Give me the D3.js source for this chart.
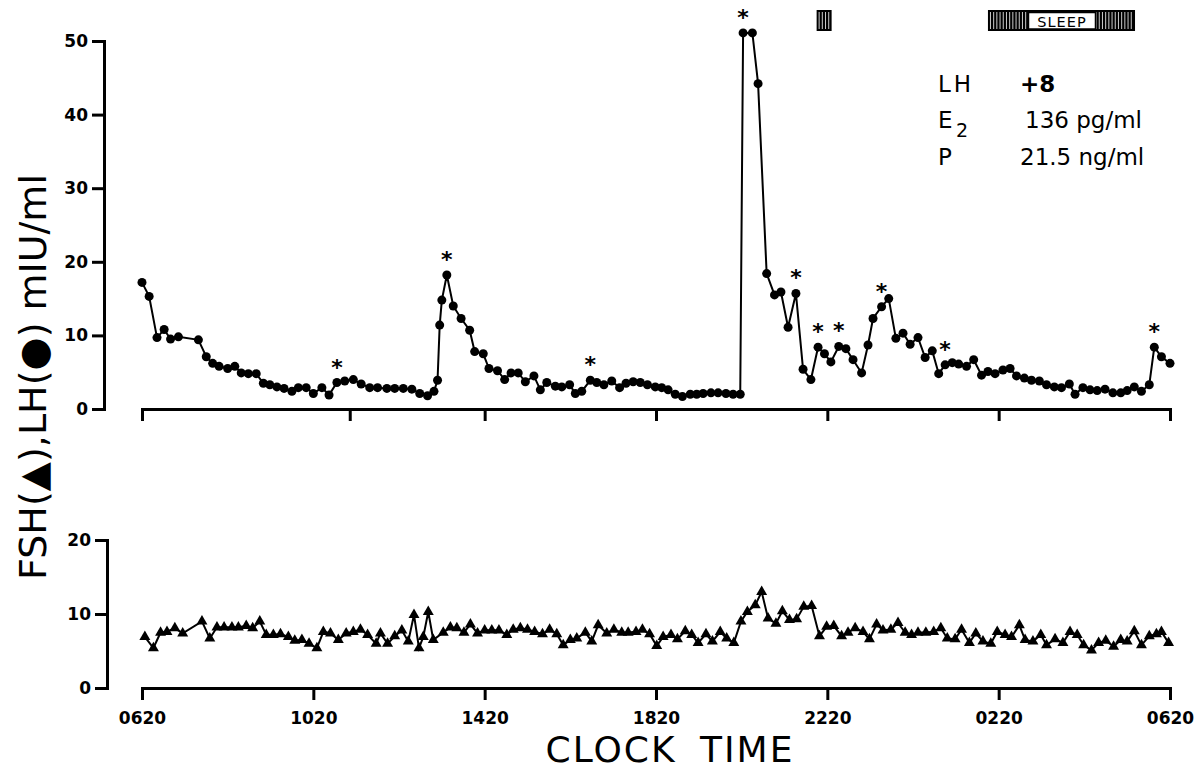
<!DOCTYPE html>
<html><head><meta charset="utf-8">
<script src="https://cdn.jsdelivr.net/npm/d3@7"></script>
<style>body{margin:0;background:#fff}svg{display:block}</style>
</head><body><svg id="c" width="1197" height="772"></svg>
<script>
// minutes after 06:20
const lhMinutes = [0,10,21,31,40,51,79,90,99,108,120,130,139,149,160,170,179,189,199,210,219,230,240,252,262,273,284,296,307,319,330,343,354,366,378,389,400,409,414,417,420,427,436,447,459,466,478,486,498,508,517,527,537,549,558,567,579,588,599,607,616,628,637,647,658,669,678,688,698,708,719,728,737,747,757,768,777,786,797,807,818,828,838,842,855,863,875,886,895,905,916,926,937,947,956,965,976,986,996,1008,1017,1024,1036,1046,1056,1066,1076,1087,1097,1107,1116,1125,1135,1144,1155,1165,1176,1185,1195,1206,1216,1225,1236,1246,1257,1267,1278,1288,1299,1307,1318,1328,1338,1349,1360,1371,1380,1390,1400,1411,1418,1428,1440];
const lhValues = [17.2,15.3,9.7,10.8,9.5,9.8,9.4,7.1,6.2,5.8,5.5,5.8,4.9,4.8,4.8,3.5,3.3,3.0,2.8,2.4,2.9,2.9,2.1,2.9,1.9,3.6,3.8,4.0,3.4,2.9,2.9,2.8,2.8,2.8,2.7,2.1,1.8,2.4,3.9,11.4,14.8,18.2,14.0,12.3,10.7,7.8,7.5,5.5,5.2,4.0,4.9,4.9,3.7,4.5,2.6,3.6,3.1,3.0,3.3,2.1,2.4,3.9,3.6,3.3,3.8,2.9,3.5,3.7,3.6,3.3,3.0,2.9,2.6,2.0,1.7,2.0,2.0,2.1,2.2,2.2,2.1,2.0,2.0,51.1,51.1,44.2,18.4,15.5,15.9,11.1,15.7,5.4,4.0,8.4,7.5,6.4,8.5,8.2,6.7,4.9,8.7,12.3,13.9,15.0,9.6,10.3,8.8,9.7,7.0,7.9,4.8,6.0,6.3,6.1,5.8,6.7,4.6,5.1,4.8,5.3,5.5,4.5,4.2,3.9,3.8,3.3,3.0,2.9,3.4,2.0,2.9,2.6,2.5,2.7,2.2,2.2,2.5,3.0,2.4,3.3,8.4,7.1,6.2];
const lhPulseMinutes = [273,427,628,842,916,947,976,1036,1125,1418];
const fshMinutes = [4,16,26,35,46,57,84,95,105,115,126,135,146,155,165,174,184,194,205,214,224,234,245,254,264,275,286,296,306,316,328,334,344,354,364,373,381,388,394,401,408,422,432,441,451,460,470,480,490,500,511,520,530,540,550,561,571,581,590,600,609,621,630,639,651,661,672,681,692,701,711,721,730,741,750,761,770,779,790,799,810,819,829,839,848,859,868,877,888,897,907,917,927,938,949,959,969,980,989,999,1010,1019,1029,1038,1049,1059,1069,1078,1087,1098,1109,1119,1128,1139,1148,1159,1168,1178,1189,1198,1209,1218,1229,1237,1248,1259,1267,1279,1290,1300,1310,1319,1330,1340,1350,1361,1371,1380,1390,1400,1411,1421,1428,1438];
const fshValues = [6.9,5.4,7.5,7.6,8.1,7.4,9.0,6.7,8.2,8.2,8.2,8.2,8.4,8.1,9.0,7.2,7.2,7.3,6.9,6.4,6.5,6.0,5.4,7.6,7.4,6.5,7.4,7.6,7.9,7.2,6.0,7.4,6.0,7.0,7.8,6.3,9.9,5.4,6.9,10.3,6.5,7.5,8.2,8.1,7.5,8.6,7.4,7.8,7.8,7.8,7.2,7.9,8.1,7.9,7.6,7.3,7.9,7.3,5.8,6.5,6.7,7.5,6.3,8.5,7.4,7.9,7.5,7.5,7.6,7.9,7.3,5.7,6.9,7.2,6.6,7.7,7.2,6.1,7.3,6.3,7.6,6.7,6.1,9.0,10.3,11.2,13.0,9.4,8.7,10.4,9.2,9.3,11.0,11.1,7.0,8.3,8.4,7.0,7.5,8.1,7.6,6.6,8.6,7.8,7.9,8.8,7.5,7.2,7.5,7.5,7.6,8.1,6.7,6.6,7.9,6.1,7.4,6.3,6.0,7.6,7.2,6.9,8.5,6.5,6.3,7.2,5.8,6.6,6.1,7.6,7.2,5.8,5.1,6.1,6.4,5.6,6.5,6.3,7.7,5.8,7.0,7.3,7.6,6.1];
const axisTickMinutes = [0,240,480,720,960,1200,1440];
const axisTickLabels = ["0620","1020","1420","1820","2220","0220","0620"];
const topAxisTickMinutes = [0,291,480,720,960,1200,1440];
const lhTicks = [0,10,20,30,40,50];
const fshTicks = [0,10,20];
const sleepBlocks = [[945,966],[1185,1391]];
const sleepLabel = "SLEEP";
const infoRows = [["LH","+8",""],["E","136 pg/ml","2"],["P","21.5 ng/ml",""]];

const svg = d3.select("#c");
const FONT = "DejaVu Sans, sans-serif";
const x = d3.scaleLinear([0,1440],[142,1170]);
const yLH = d3.scaleLinear([0,50],[409,41]);
const yFSH = d3.scaleLinear([0,20],[688,540]);

function styleAxis(g, w){
  g.select(".domain").attr("stroke","#000").attr("stroke-width",w);
  g.selectAll(".tick line").attr("stroke","#000").attr("stroke-width",w);
  g.selectAll(".tick text").attr("font-family",FONT).attr("font-weight","bold").attr("font-size",17).attr("fill","#000");
}
// y axes
svg.append("g").attr("transform","translate(104,0)")
  .call(d3.axisLeft(yLH).tickValues(lhTicks).tickSize(12).tickPadding(4))
  .call(g=>styleAxis(g,3));
svg.append("g").attr("transform","translate(107,0)")
  .call(d3.axisLeft(yFSH).tickValues(fshTicks).tickSize(12).tickPadding(4))
  .call(g=>styleAxis(g,3));
// x axes
svg.append("g").attr("transform","translate(0,409)")
  .call(d3.axisBottom(x).tickValues(topAxisTickMinutes).tickFormat("").tickSize(12))
  .call(g=>styleAxis(g,3));
svg.append("g").attr("transform","translate(0,688)")
  .call(d3.axisBottom(x).tickValues(axisTickMinutes).tickFormat((d,i)=>axisTickLabels[i]).tickSize(12).tickPadding(12))
  .call(g=>styleAxis(g,3));

// LH
const lh = lhMinutes.map((m,i)=>({m, v: lhValues[i]}));
svg.append("path").datum(lh)
  .attr("d", d3.line().x(d=>x(d.m)).y(d=>yLH(d.v)))
  .attr("fill","none").attr("stroke","#000").attr("stroke-width",2);
svg.append("g").selectAll("circle").data(lh).join("circle")
  .attr("cx",d=>x(d.m)).attr("cy",d=>yLH(d.v)).attr("r",4.5).attr("fill","#000");
svg.append("g").selectAll("text").data(lh.filter(d=>lhPulseMinutes.includes(d.m))).join("text")
  .attr("x",d=>x(d.m)).attr("y",d=>yLH(d.v)-8)
  .attr("text-anchor","middle").attr("font-family",FONT).attr("font-weight","bold").attr("font-size",22).text("*");

// FSH
const fsh = fshMinutes.map((m,i)=>({m, v: fshValues[i]}));
svg.append("path").datum(fsh)
  .attr("d", d3.line().x(d=>x(d.m)).y(d=>yFSH(d.v)))
  .attr("fill","none").attr("stroke","#000").attr("stroke-width",2);
svg.append("g").selectAll("path").data(fsh).join("path")
  .attr("transform",d=>`translate(${x(d.m)},${yFSH(d.v)})`)
  .attr("d", d3.symbol(d3.symbolTriangle, 52)).attr("fill","#000");

// sleep bars
const sg = svg.append("g");
sleepBlocks.forEach(([a,b])=>{
  const x0 = x(a), x1 = x(b);
  sg.append("rect").attr("x",x0).attr("y",10).attr("width",x1-x0).attr("height",21).attr("fill","#000");
  d3.range(x0+2.5, x1-1, 3.2).forEach(xx=>{
    sg.append("line").attr("x1",xx).attr("x2",xx).attr("y1",12).attr("y2",29).attr("stroke","#fff").attr("stroke-width",0.8);
  });
});
const sb = sleepBlocks[1];
const sc = (x(sb[0])+x(sb[1]))/2;
sg.append("rect").attr("x",sc-33).attr("y",12.5).attr("width",67).attr("height",16.5).attr("fill","#fff").attr("stroke","#000").attr("stroke-width",1.5);
sg.append("text").attr("x",sc+0.5).attr("y",26.5).attr("text-anchor","middle").attr("font-family",FONT).attr("font-size",14.5).attr("letter-spacing",1).text(sleepLabel);

// info text
const rowY = [92,128,165];
const valX = [1020,1025,1020];
infoRows.forEach((r,i)=>{
  svg.append("text").attr("x",938).attr("y",rowY[i]).attr("font-family",FONT).attr("font-size",23).attr("letter-spacing",i===0?3:0).text(r[0]);
  if(r[2]) svg.append("text").attr("x",956).attr("y",rowY[i]+9).attr("font-family",FONT).attr("font-size",19).text(r[2]);
  svg.append("text").attr("x",valX[i]).attr("y",rowY[i]).attr("font-family",FONT).attr("font-size",23)
    .attr("font-weight",i===0?"bold":"normal").text(r[1]);
});

// axis titles
svg.append("text").attr("transform","translate(46,377) rotate(-90)").attr("text-anchor","middle")
  .attr("font-family",FONT).attr("font-size",38).text("FSH(▲),LH(●) mIU/ml");
svg.append("text").attr("x",670).attr("y",762).attr("text-anchor","middle")
  .attr("font-family",FONT).attr("font-size",36).attr("letter-spacing",2).attr("word-spacing",10).text("CLOCK TIME");
</script></body></html>
